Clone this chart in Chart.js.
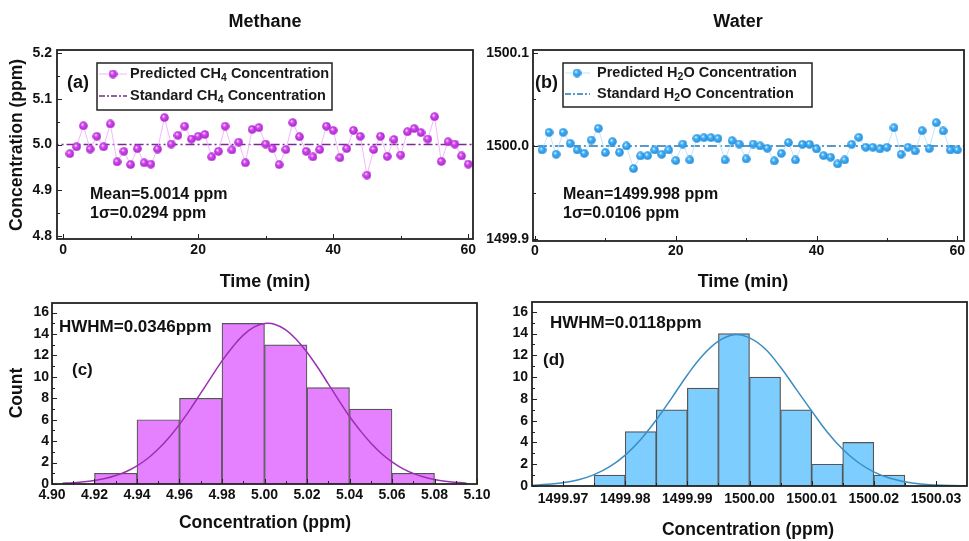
<!DOCTYPE html>
<html>
<head>
<meta charset="utf-8">
<script src="https://cdn.jsdelivr.net/npm/chart.js@4.4.1/dist/chart.umd.min.js"></script>
<style>
  body { margin: 0; background: #fff; width: 969px; height: 541px; overflow: hidden; position: relative; }
  canvas { position: absolute; }
</style>
</head>
<body>
<canvas id="chartA" width="484" height="300" style="left:0;top:0"></canvas>
<canvas id="chartB" width="485" height="300" style="left:484px;top:0"></canvas>
<canvas id="chartC" width="500" height="251" style="left:0;top:290px"></canvas>
<canvas id="chartD" width="485" height="251" style="left:484px;top:290px"></canvas>
<script>
// time series (min)
var minutes = [1,2,3,4,5,6,7,8,9,10,11,12,13,14,15,16,17,18,19,20,21,22,23,24,25,26,27,28,29,30,
  31,32,33,34,35,36,37,38,39,40,41,42,43,44,45,46,47,48,49,50,51,52,53,54,55,56,57,58,59,60];

var ch4Predicted = [4.980,4.995,5.041,4.990,5.018,4.995,5.045,4.962,4.985,4.956,4.991,4.960,4.957,4.990,5.059,
  5.001,5.020,5.040,5.012,5.018,5.022,4.973,4.985,5.040,4.988,5.005,4.960,5.033,5.037,5.001,
  4.991,4.956,4.989,5.048,5.017,4.985,4.973,4.989,5.040,5.031,4.971,4.991,5.031,5.018,4.933,
  4.989,5.018,4.974,5.011,4.977,5.028,5.035,5.026,5.012,5.061,4.963,5.006,5.001,4.975,4.957];
var ch4Standard = 5.0;

var h2oPredicted = [1499.9957,1500.0146,1499.9911,1500.0146,1500.0029,1499.9957,1499.9921,1500.0064,1500.0189,1499.9929,
  1500.0046,1499.9932,1500.0000,1499.9757,1499.9893,1499.9896,1499.9957,1499.9911,1499.9957,1499.9843,
  1500.0021,1499.9850,1500.0082,1500.0089,1500.0089,1500.0079,1499.9850,1500.0057,1500.0021,1499.9861,
  1500.0021,1500.0000,1499.9975,1499.9839,1499.9921,1500.0036,1499.9850,1500.0018,1500.0018,1499.9968,
  1499.9896,1499.9879,1499.9807,1499.9850,1500.0018,1500.0093,1499.9986,1499.9986,1499.9968,1499.9986,
  1500.0196,1499.9911,1499.9986,1499.9946,1500.0164,1499.9971,1500.0250,1500.0161,1499.9957,1499.9957];
var h2oStandard = 1500.0;

// histograms
var ch4BinCenters = [4.93, 4.95, 4.97, 4.99, 5.01, 5.03, 5.05, 5.07];
var ch4Counts = [1, 6, 8, 15, 13, 9, 7, 1];
var h2oBinCenters = [1499.9775, 1499.9825, 1499.9875, 1499.9925, 1499.9975, 1500.0025, 1500.0075, 1500.0125, 1500.0175, 1500.0225];
var h2oCounts = [1, 5, 7, 9, 14, 10, 7, 2, 4, 1];

// fitted curves
var ch4FitX = [4.905,4.910,4.915,4.920,4.925,4.930,4.935,4.940,4.945,4.950,4.955,4.960,4.965,4.970,4.975,4.980,4.985,4.990,4.995,5.000,
  5.005,5.010,5.015,5.020,5.025,5.030,5.035,5.040,5.045,5.050,5.055,5.060,5.065,5.070,5.075,5.080,5.085,5.090,5.095];
var ch4FitY = [0.07,0.12,0.20,0.33,0.51,0.79,1.17,1.70,2.38,3.26,4.32,5.57,6.97,8.48,10.0,11.5,12.8,13.9,14.65,14.98,
  14.9,14.4,13.5,12.3,10.9,9.35,7.8,6.3,5.0,3.83,2.85,2.06,1.44,0.99,0.65,0.42,0.26,0.16,0.09];
var h2oFitX = [1499.9650,1499.9675,1499.9700,1499.9725,1499.9750,1499.9775,1499.9800,1499.9825,1499.9850,1499.9875,
  1499.9900,1499.9925,1499.9950,1499.9975,1500.0000,1500.0025,1500.0050,1500.0075,1500.0100,1500.0125,
  1500.0150,1500.0175,1500.0200,1500.0225,1500.0250,1500.0275,1500.0300,1500.0325,1500.0350];
var h2oFitY = [0.07,0.15,0.30,0.57,1.04,1.77,2.84,4.28,6.07,8.1,10.2,12.0,13.3,13.9,13.6,12.6,10.9,8.9,6.9,4.96,
  3.37,2.16,1.30,0.73,0.39,0.19,0.09,0.04,0.02];

// ticks
var timeMajor = [0, 20, 40, 60];
var timeLabels = ['0', '20', '40', '60'];
var timeMinor = [10, 30, 50];
var ch4YMajor = [4.8, 4.9, 5.0, 5.1, 5.2];
var ch4YLabels = ['4.8', '4.9', '5.0', '5.1', '5.2'];
var ch4YMinor = [4.85, 4.95, 5.05, 5.15];
var h2oYMajor = [1499.9, 1500.0, 1500.1];
var h2oYLabels = ['1499.9', '1500.0', '1500.1'];
var h2oYMinor = [1499.95, 1500.05];
var countMajor = [0, 2, 4, 6, 8, 10, 12, 14, 16];
var countLabels = ['0', '2', '4', '6', '8', '10', '12', '14', '16'];
var countMinor = [1, 3, 5, 7, 9, 11, 13, 15];
var ch4XMajor = [4.90, 4.92, 4.94, 4.96, 4.98, 5.00, 5.02, 5.04, 5.06, 5.08, 5.10];
var ch4XLabels = ['4.90', '4.92', '4.94', '4.96', '4.98', '5.00', '5.02', '5.04', '5.06', '5.08', '5.10'];
var ch4XMinor = [4.91, 4.93, 4.95, 4.97, 4.99, 5.01, 5.03, 5.05, 5.07, 5.09];
var h2oXMajor = [1499.97, 1499.98, 1499.99, 1500.00, 1500.01, 1500.02, 1500.03];
var h2oXLabels = ['1499.97', '1499.98', '1499.99', '1500.00', '1500.01', '1500.02', '1500.03'];
var h2oXMinor = [1499.975, 1499.985, 1499.995, 1500.005, 1500.015, 1500.025];

var FONT = '"Liberation Sans", Arial, Helvetica, sans-serif';

function sphere(body, edge) {
  var c = document.createElement('canvas');
  c.width = 9; c.height = 9;
  var g = c.getContext('2d');
  var gr = g.createRadialGradient(3.3, 3.1, 0.2, 4.5, 4.5, 4.6);
  gr.addColorStop(0, '#ffffff');
  gr.addColorStop(0.3, body);
  gr.addColorStop(1, edge);
  g.fillStyle = gr;
  g.beginPath(); g.arc(4.5, 4.5, 4.3, 0, Math.PI * 2); g.fill();
  return c;
}
var ch4Ball = sphere('#d84cf5', '#a21fc4');
var h2oBall = sphere('#44b4fb', '#1f86d4');

function pts(xs, ys) {
  return xs.map(function (x, i) { return {x: x, y: ys[i]}; });
}

function axis(dir, min, max, major, labels, pad, size) {
  return {
    type: 'linear', min: min, max: max, offset: false,
    grid: {display: false, drawTicks: false},
    border: {display: false},
    afterBuildTicks: function (s) { s.ticks = major.map(function (v) { return {value: v}; }); },
    afterFit: function (s) {
      if (dir === 'x') { s.height = size; s.paddingLeft = 0; s.paddingRight = 0; }
      else { s.width = size; s.paddingTop = 0; s.paddingBottom = 0; }
    },
    ticks: {
      autoSkip: false, maxRotation: 0, minRotation: 0, padding: pad, color: '#111',
      font: {family: FONT, size: 14, weight: 'bold'},
      callback: function (v, i) { return labels[i]; }
    }
  };
}

function drawParts(ctx, parts, x, y, size) {
  parts.forEach(function (p) {
    var sub = p[1];
    ctx.font = 'bold ' + (sub ? size * 0.72 : size) + 'px ' + FONT;
    ctx.fillText(p[0], x, sub ? y + size * 0.28 : y);
    x += ctx.measureText(p[0]).width;
  });
}

// frame, inward ticks, labels and legend
function decor(cfg) {
  return {
    id: 'decor',
    afterDraw: function (chart) {
      var ctx = chart.ctx, a = chart.chartArea;
      var xs = chart.scales.x, ys = chart.scales.y;
      ctx.save();
      ctx.strokeStyle = '#222';
      ctx.lineWidth = 1;
      ctx.beginPath();
      function tx(list, len) {
        list.forEach(function (v) {
          var p = Math.round(xs.getPixelForValue(v)) + 0.5;
          ctx.moveTo(p, a.bottom); ctx.lineTo(p, a.bottom - len);
        });
      }
      function ty(list, len) {
        list.forEach(function (v) {
          var p = Math.round(ys.getPixelForValue(v)) + 0.5;
          ctx.moveTo(a.left, p); ctx.lineTo(a.left + len, p);
        });
      }
      tx(cfg.xMajor, 5); tx(cfg.xMinor, 3); ty(cfg.yMajor, 5); ty(cfg.yMinor, 3);
      ctx.stroke();
      ctx.lineWidth = 1.8;
      ctx.strokeRect(a.left, a.top, a.right - a.left, a.bottom - a.top);

      ctx.fillStyle = '#111';
      ctx.textBaseline = 'middle';
      (cfg.texts || []).forEach(function (t) {
        ctx.save();
        ctx.font = 'bold ' + t.size + 'px ' + FONT;
        ctx.textAlign = t.align || 'left';
        ctx.translate(t.x, t.y);
        if (t.rot) ctx.rotate(-Math.PI / 2);
        ctx.fillText(t.text, 0, 0);
        ctx.restore();
      });

      var lg = cfg.legend;
      if (lg) {
        ctx.fillStyle = '#fff';
        ctx.fillRect(lg.box[0], lg.box[1], lg.box[2], lg.box[3]);
        ctx.lineWidth = 1.5;
        ctx.strokeStyle = '#222';
        ctx.strokeRect(lg.box[0], lg.box[1], lg.box[2], lg.box[3]);
        lg.rows.forEach(function (r) {
          ctx.save();
          ctx.strokeStyle = r.color;
          ctx.lineWidth = r.width;
          ctx.setLineDash(r.dash || []);
          ctx.beginPath();
          ctx.moveTo(lg.line[0], r.y); ctx.lineTo(lg.line[1], r.y);
          ctx.stroke();
          ctx.restore();
          if (r.ball) ctx.drawImage(r.ball, lg.mark - 4.5, r.y - 4.5);
          ctx.fillStyle = '#1a1a1a';
          ctx.textAlign = 'left';
          drawParts(ctx, r.parts, lg.text, r.y, 14.5);
        });
      }
      ctx.restore();
    }
  };
}

Chart.defaults.font.family = FONT;

// (a) methane time series
new Chart(document.getElementById('chartA'), {
  type: 'line',
  data: {
    datasets: [
      {
        data: pts(minutes, ch4Predicted),
        borderColor: '#f4b6ff', borderWidth: 1,
        pointStyle: ch4Ball, pointRadius: 4, tension: 0, order: 0
      },
      {
        data: [{x: -2, y: ch4Standard}, {x: 62, y: ch4Standard}],
        borderColor: '#7a2a92', borderWidth: 1.6, borderDash: [9, 3, 2, 3],
        pointRadius: 0, order: 1
      }
    ]
  },
  options: {
    responsive: false, animation: false, devicePixelRatio: 1,
    layout: {padding: {left: 0, right: 11, top: 50, bottom: 0}},
    plugins: {legend: {display: false}, tooltip: {enabled: false}},
    scales: {
      x: axis('x', -0.9, 60.7, timeMajor, timeLabels, 3, 61),
      y: axis('y', 4.793, 5.207, ch4YMajor, ch4YLabels, 5, 57)
    }
  },
  plugins: [decor({
    xMajor: timeMajor, xMinor: timeMinor, yMajor: ch4YMajor, yMinor: ch4YMinor,
    texts: [
      {text: 'Methane', x: 265, y: 22, size: 18, align: 'center'},
      {text: 'Time (min)', x: 265, y: 282, size: 18, align: 'center'},
      {text: 'Concentration (ppm)', x: 17, y: 145, size: 17.5, align: 'center', rot: true},
      {text: '(a)', x: 67, y: 83, size: 18},
      {text: 'Mean=5.0014 ppm', x: 90, y: 195, size: 16},
      {text: '1\u03c3=0.0294 ppm', x: 90, y: 214, size: 16}
    ],
    legend: {
      box: [97, 63, 235, 47], line: [99, 127], mark: 113, text: 130,
      rows: [
        {y: 74, color: '#f4b6ff', width: 1, ball: ch4Ball, parts: [['Predicted CH'], ['4', true], [' Concentration']]},
        {y: 96, color: '#7a2a92', width: 1.6, dash: [6, 2, 2, 2], parts: [['Standard CH'], ['4', true], [' Concentration']]}
      ]
    }
  })]
});

// (b) water time series
new Chart(document.getElementById('chartB'), {
  type: 'line',
  data: {
    datasets: [
      {
        data: pts(minutes, h2oPredicted),
        borderColor: '#bfe6ff', borderWidth: 1,
        pointStyle: h2oBall, pointRadius: 4, tension: 0, order: 0
      },
      {
        data: [{x: -2, y: h2oStandard}, {x: 62, y: h2oStandard}],
        borderColor: '#2577b5', borderWidth: 1.6, borderDash: [9, 3, 2, 3],
        pointRadius: 0, order: 1
      }
    ]
  },
  options: {
    responsive: false, animation: false, devicePixelRatio: 1,
    layout: {padding: {left: 0, right: 4, top: 50, bottom: 0}},
    plugins: {legend: {display: false}, tooltip: {enabled: false}},
    scales: {
      x: axis('x', -0.28, 60.95, timeMajor, timeLabels, 2, 59),
      y: axis('y', 1499.898, 1500.103, h2oYMajor, h2oYLabels, 4, 49)
    }
  },
  plugins: [decor({
    xMajor: timeMajor, xMinor: timeMinor, yMajor: h2oYMajor, yMinor: h2oYMinor,
    texts: [
      {text: 'Water', x: 254, y: 22, size: 18, align: 'center'},
      {text: 'Time (min)', x: 259, y: 282, size: 18, align: 'center'},
      {text: '(b)', x: 51, y: 83, size: 18},
      {text: 'Mean=1499.998 ppm', x: 79, y: 195, size: 16},
      {text: '1\u03c3=0.0106 ppm', x: 79, y: 214, size: 16}
    ],
    legend: {
      box: [79, 63, 249, 44], line: [81, 106], mark: 93, text: 113,
      rows: [
        {y: 73, color: '#bfe6ff', width: 1, ball: h2oBall, parts: [['Predicted H'], ['2', true], ['O Concentration']]},
        {y: 94, color: '#2577b5', width: 1.6, dash: [6, 2, 2, 2], parts: [['Standard H'], ['2', true], ['O Concentration']]}
      ]
    }
  })]
});

// (c) methane histogram
new Chart(document.getElementById('chartC'), {
  type: 'bar',
  data: {
    datasets: [
      {
        type: 'line', data: pts(ch4FitX, ch4FitY),
        borderColor: '#9b2fb4', borderWidth: 1.5, pointRadius: 0, tension: 0.4, order: 0
      },
      {
        type: 'bar', data: pts(ch4BinCenters, ch4Counts),
        backgroundColor: '#e580fe', borderColor: '#555', borderWidth: 1.2,
        barPercentage: 1, categoryPercentage: 1, order: 1
      }
    ]
  },
  options: {
    responsive: false, animation: false, devicePixelRatio: 1,
    layout: {padding: {left: 0, right: 23, top: 13, bottom: 0}},
    plugins: {legend: {display: false}, tooltip: {enabled: false}},
    scales: {
      x: axis('x', 4.90, 5.10, ch4XMajor, ch4XLabels, 3, 57),
      y: axis('y', 0, 16.9, countMajor, countLabels, 3, 52)
    }
  },
  plugins: [decor({
    xMajor: ch4XMajor, xMinor: ch4XMinor, yMajor: countMajor, yMinor: countMinor,
    texts: [
      {text: 'HWHM=0.0346ppm', x: 59, y: 37, size: 17},
      {text: '(c)', x: 72, y: 80, size: 17},
      {text: 'Count', x: 17, y: 103, size: 17.5, align: 'center', rot: true},
      {text: 'Concentration (ppm)', x: 265, y: 233, size: 17.5, align: 'center'}
    ]
  })]
});

// (d) water histogram
new Chart(document.getElementById('chartD'), {
  type: 'bar',
  data: {
    datasets: [
      {
        type: 'line', data: pts(h2oFitX, h2oFitY),
        borderColor: '#3a8dc2', borderWidth: 1.5, pointRadius: 0, tension: 0.4, order: 0
      },
      {
        type: 'bar', data: pts(h2oBinCenters, h2oCounts),
        backgroundColor: '#7dcdfe', borderColor: '#555', borderWidth: 1.2,
        barPercentage: 1, categoryPercentage: 1, order: 1
      }
    ]
  },
  options: {
    responsive: false, animation: false, devicePixelRatio: 1,
    layout: {padding: {left: 0, right: 2, top: 12, bottom: 0}},
    plugins: {legend: {display: false}, tooltip: {enabled: false}},
    scales: {
      x: axis('x', 1499.965, 1500.035, h2oXMajor, h2oXLabels, 5, 55),
      y: axis('y', 0, 16.9, countMajor, countLabels, 4, 48)
    }
  },
  plugins: [decor({
    xMajor: h2oXMajor, xMinor: h2oXMinor, yMajor: countMajor, yMinor: countMinor,
    texts: [
      {text: 'HWHM=0.0118ppm', x: 66, y: 33, size: 17},
      {text: '(d)', x: 59, y: 70, size: 17},
      {text: 'Concentration (ppm)', x: 264, y: 240, size: 17.5, align: 'center'}
    ]
  })]
});
</script>
</body>
</html>
